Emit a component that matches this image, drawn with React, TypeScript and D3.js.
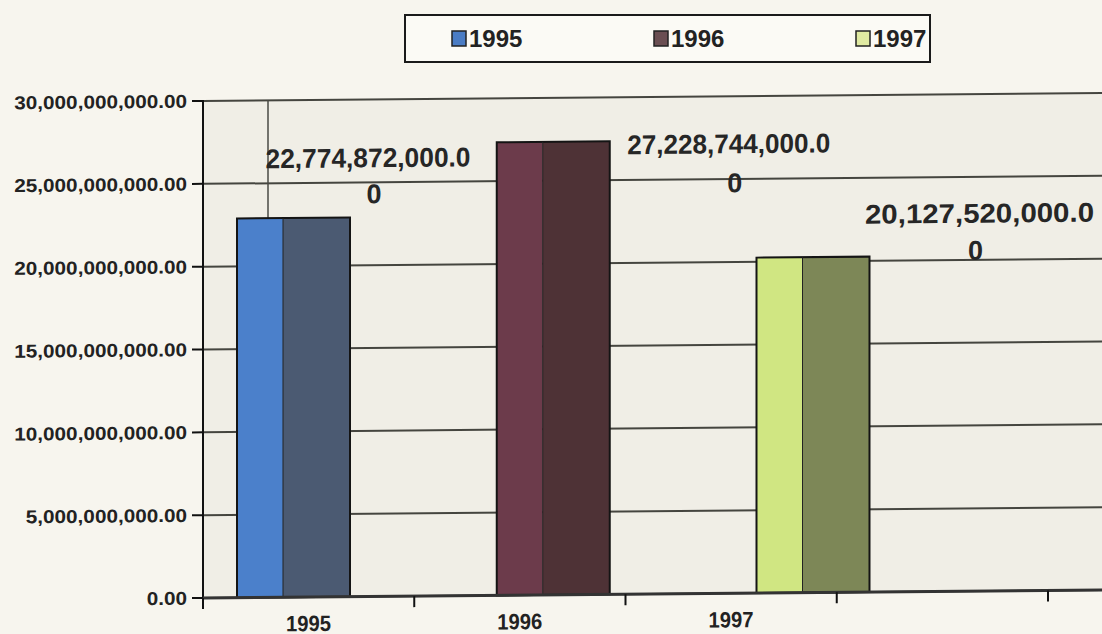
import React from "react";
import * as d3 from "d3";

// ---- data ----
const categories = ["1995", "1996", "1997", ""];
const seriesNames = ["1995", "1996", "1997"];
// each series has a value only in its own category
const seriesValues = [22774872000, 27228744000, 20127520000];
const yTickValues = [0, 5e9, 10e9, 15e9, 20e9, 25e9, 30e9];

// ---- styles ----
const frontColors = ["#4b80cb", "#6c3b4b", "#d0e682"];
const sideColors = ["#4b5a72", "#4e3236", "#7d8757"];
const legendColors = ["#4a7cc4", "#6a4e52", "#e0eaa2"];
const labelLayout = [
  { dx: 18, dy1: -52, dy2: -16, dx2: 6, w: 205 },
  { dx: 119, dy1: 11, dy2: 50, dx2: 6, w: 203 },
  { dx: 110, dy1: -35, dy2: 2, dx2: -4, w: 229 },
];

const W = 1102;
const H = 634;
const FONT = "'Liberation Sans', Arial, sans-serif";
const INK = "#222";

export default function App() {
  const left = 203;
  const zeroY = 598;
  const x = d3.scaleBand<string>().domain(categories).range([left, 1048]).paddingInner(0);
  const y = d3.scaleLinear().domain([0, 30e9]).range([zeroY, 101]);
  const barOffset = d3.scaleLinear().domain([0, 2]).range([34, 131]);
  const barW = 113;
  const frontW = 46;
  const fmt = d3.format(",.2f");
  const xTickPos = categories.map((c) => x(c)!).concat([x(categories[categories.length - 1])! + x.bandwidth()]);

  return (
    <svg width={W} height={H} style={{ position: "absolute", left: 0, top: 0, display: "block" }}>
      <rect x={0} y={0} width={W} height={H} fill="#f7f5ee" />
      <g transform={`translate(${left},${zeroY}) skewY(-0.51) translate(${-left},${-zeroY})`}>
        <rect x={left} y={y(30e9)} width={W - left + 10} height={zeroY - y(30e9)} fill="#f0eee6" />
        {/* gridlines */}
        {yTickValues.map((t) => (
          <line key={"g" + t} x1={left} x2={W + 10} y1={y(t)} y2={y(t)} stroke="#45453f" strokeWidth={2} />
        ))}
        <line x1={268} x2={268} y1={y(30e9)} y2={zeroY} stroke="#4a4a44" strokeWidth={1.5} />
        {/* y axis */}
        <line x1={left} x2={left} y1={y(30e9) - 1} y2={zeroY + 10} stroke="#111" strokeWidth={2} />
        {yTickValues.map((t) => (
          <g key={"t" + t}>
            <line x1={left - 11} x2={left} y1={y(t)} y2={y(t)} stroke="#111" strokeWidth={2} />
            <text
              transform={`translate(187,${y(t) + 6.5}) scale(1.12,1)`}
              textAnchor="end"
              fontFamily={FONT}
              fontWeight="bold"
              fontSize={18.5}
              fill={INK}
            >
              {fmt(t)}
            </text>
          </g>
        ))}
        {/* bars */}
        {seriesValues.map((v, i) => {
          const bx = x(categories[i])! + barOffset(i);
          const top = y(v) - 2;
          const h = zeroY - top;
          return (
            <g key={"b" + i}>
              <rect x={bx} y={top} width={frontW} height={h} fill={frontColors[i]} />
              <rect x={bx + frontW} y={top} width={barW - frontW} height={h} fill={sideColors[i]} />
              <rect x={bx} y={top} width={barW} height={h} fill="none" stroke="#141414" strokeWidth={2} />
              <line x1={bx + frontW} x2={bx + frontW} y1={top} y2={zeroY} stroke="#222" strokeWidth={1} />
            </g>
          );
        })}
        {/* x axis */}
        <line x1={left} x2={W + 10} y1={zeroY} y2={zeroY} stroke="#333" strokeWidth={3} />
        {xTickPos.map((p, i) => (
          <line key={"xt" + i} x1={p} x2={p} y1={zeroY} y2={zeroY + 11} stroke="#111" strokeWidth={2} />
        ))}
        {categories.map((c) => (
          <text
            key={"c" + c}
            transform={`translate(${x(c)! + x.bandwidth() / 2},632) scale(0.92,1)`}
            textAnchor="middle"
            fontFamily={FONT}
            fontWeight="bold"
            fontSize={22}
            fill={INK}
          >
            {c}
          </text>
        ))}
        {/* data labels */}
        {seriesValues.map((v, i) => {
          const s = fmt(v);
          const L = labelLayout[i];
          const cx = x(categories[i])! + barOffset(i) + barW + L.dx;
          return (
            <g key={"l" + i} fontFamily={FONT} fontWeight="bold" fontSize={27} fill="#262626">
              <text x={cx} y={y(v) + L.dy1} textAnchor="middle" textLength={L.w} lengthAdjust="spacingAndGlyphs">
                {s.slice(0, -1)}
              </text>
              <text x={cx + L.dx2} y={y(v) + L.dy2} textAnchor="middle">
                {s.slice(-1)}
              </text>
            </g>
          );
        })}
      </g>
      {/* legend */}
      <g>
        <rect x={405} y={15} width={525} height={47} fill="#fbfaf5" stroke="#1a1a1a" strokeWidth={2} />
        {seriesNames.map((n, i) => {
          const lx = 452 + i * 202;
          return (
            <g key={"lg" + n}>
              <rect x={lx} y={31} width={14} height={15} fill={legendColors[i]} stroke="#222" strokeWidth={1.5} />
              <text x={lx + 17} y={47} fontFamily={FONT} fontWeight="bold" fontSize={24} fill={INK}>
                {n}
              </text>
            </g>
          );
        })}
      </g>
    </svg>
  );
}
